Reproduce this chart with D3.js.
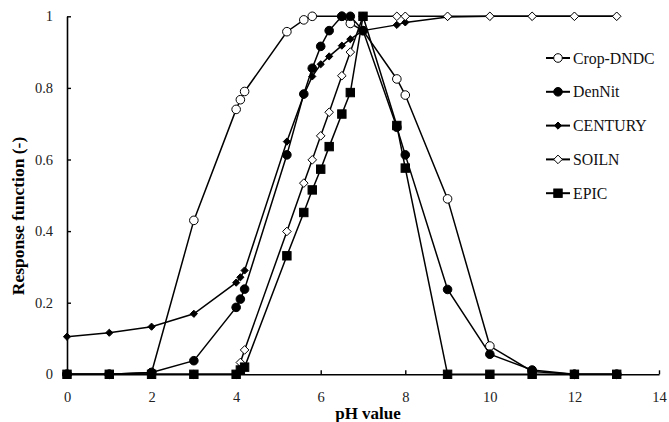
<!DOCTYPE html>
<html>
<head>
<meta charset="utf-8">
<script src="https://cdn.jsdelivr.net/npm/d3@7"></script>
<style>
  body { margin: 0; background: #fff; }
  svg { display: block; font-family: "Liberation Serif", "Times New Roman", serif; }
</style>
</head>
<body>
<svg width="669" height="422"></svg>
<script>
// pH values
var phGrid = [0, 1, 2, 3, 4, 4.1, 4.2, 5.2, 5.6, 5.8, 6, 6.2, 6.5, 6.7, 7, 7.8, 8, 9, 10, 11, 12, 13];
var phCrop = [0, 1, 2, 3, 4, 4.1, 4.2, 5.2, 5.6, 5.8, 6.5, 6.7, 7, 7.8, 8, 9, 10, 11, 12, 13];

var cropDndc = [0, 0, 0.005, 0.43, 0.74, 0.767, 0.79, 0.957, 0.99, 1, 1, 0.98, 0.96, 0.825, 0.78, 0.49, 0.079, 0.008, 0, 0];
var denNit   = [0, 0, 0.005, 0.038, 0.187, 0.21, 0.238, 0.613, 0.783, 0.855, 0.916, 0.96, 1, 1, 0.96, 0.69, 0.613, 0.237, 0.056, 0.012, 0, 0];
var century  = [0.105, 0.116, 0.133, 0.169, 0.256, 0.271, 0.29, 0.65, 0.78, 0.832, 0.866, 0.888, 0.918, 0.936, 0.96, 0.976, 0.983, 0.998, 1, 1, 1, 1];
var soiln    = [0, 0, 0, 0, 0, 0.033, 0.068, 0.399, 0.534, 0.599, 0.666, 0.732, 0.834, 0.9, 1, 1, 1, 1, 1, 1, 1, 1];
var epic     = [0, 0, 0, 0, 0, 0.012, 0.02, 0.331, 0.452, 0.515, 0.573, 0.636, 0.727, 0.787, 1, 0.695, 0.576, 0, 0, 0, 0, 0];

var seriesNames = ["Crop-DNDC", "DenNit", "CENTURY", "SOILN", "EPIC"];
var xTicks = [0, 2, 4, 6, 8, 10, 12, 14];
var yTicks = [0, 0.2, 0.4, 0.6, 0.8, 1];

var series = [
    { name: seriesNames[0], xs: phCrop, ys: cropDndc, marker: "circle", fill: "#fff" },
    { name: seriesNames[1], xs: phGrid, ys: denNit, marker: "circle", fill: "#000" },
    { name: seriesNames[2], xs: phGrid, ys: century, marker: "smalldiamond", fill: "#000" },
    { name: seriesNames[3], xs: phGrid, ys: soiln, marker: "diamond", fill: "#fff" },
    { name: seriesNames[4], xs: phGrid, ys: epic, marker: "square", fill: "#000" }
];

var svg = d3.select("svg");

var x = d3.scaleLinear().domain([0, 14]).range([67, 659]);
var y = d3.scaleLinear().domain([0, 1]).range([374.3, 16.3]);

var fmt = d3.format("~g");

var gx = svg.append("g")
    .attr("transform", "translate(0," + y(0) + ")")
    .call(d3.axisBottom(x).tickValues(xTicks).tickFormat(fmt).tickSizeInner(-4).tickSizeOuter(0).tickPadding(17));
var gy = svg.append("g")
    .attr("transform", "translate(" + x(0) + ",0)")
    .call(d3.axisLeft(y).tickValues(yTicks).tickFormat(fmt).tickSizeInner(-4).tickSizeOuter(0).tickPadding(14));

[gx, gy].forEach(function (g) {
    g.select(".domain").attr("stroke", "#000").attr("stroke-width", 1.6);
    g.selectAll(".tick line").attr("stroke", "#000").attr("stroke-width", 1.4);
    g.selectAll(".tick text")
        .attr("font-family", "Liberation Serif, serif")
        .attr("font-size", 14.5)
        .attr("fill", "#222");
});

// axis titles
svg.append("text")
    .attr("x", 368).attr("y", 419)
    .attr("text-anchor", "middle")
    .attr("font-size", 17).attr("font-weight", "bold")
    .text("pH value");
svg.append("text")
    .attr("transform", "translate(24,216) rotate(-90)")
    .attr("text-anchor", "middle")
    .attr("font-size", 17.5).attr("font-weight", "bold")
    .text("Response function (-)");

function drawMarker(g, kind, fill, cx, cy) {
    if (kind === "circle") {
        g.append("circle").attr("cx", cx).attr("cy", cy).attr("r", 4.3)
            .attr("fill", fill).attr("stroke", "#000").attr("stroke-width", 1);
    } else if (kind === "square") {
        g.append("rect").attr("x", cx - 4.2).attr("y", cy - 4.2).attr("width", 8.4).attr("height", 8.4)
            .attr("fill", fill).attr("stroke", "#000").attr("stroke-width", 1);
    } else {
        var s = kind === "diamond" ? 4.3 : 3.6;
        g.append("path")
            .attr("d", "M" + cx + "," + (cy - s) + "L" + (cx + s) + "," + cy + "L" + cx + "," + (cy + s) + "L" + (cx - s) + "," + cy + "Z")
            .attr("fill", fill).attr("stroke", "#000").attr("stroke-width", 1);
    }
}

var line = d3.line().x(d => x(d[0])).y(d => y(d[1]));

series.forEach(function (s) {
    var pts = s.xs.map((v, i) => [v, s.ys[i]]);
    svg.append("path")
        .datum(pts)
        .attr("d", line)
        .attr("fill", "none")
        .attr("stroke", "#000")
        .attr("stroke-width", 1.5);
});

series.forEach(function (s) {
    var g = svg.append("g");
    s.xs.forEach(function (v, i) {
        drawMarker(g, s.marker, s.fill, x(v), y(s.ys[i]));
    });
});

// legend
var legend = svg.append("g");
series.forEach(function (s, i) {
    var ly = 58 + i * 33.8;
    legend.append("line")
        .attr("x1", 546).attr("x2", 570).attr("y1", ly).attr("y2", ly)
        .attr("stroke", "#000").attr("stroke-width", 2);
    drawMarker(legend, s.marker, s.fill, 558, ly);
    legend.append("text")
        .attr("x", 573).attr("y", ly + 5.5)
        .attr("font-size", 15.8)
        .attr("fill", "#111")
        .text(s.name);
});
</script>
</body>
</html>
